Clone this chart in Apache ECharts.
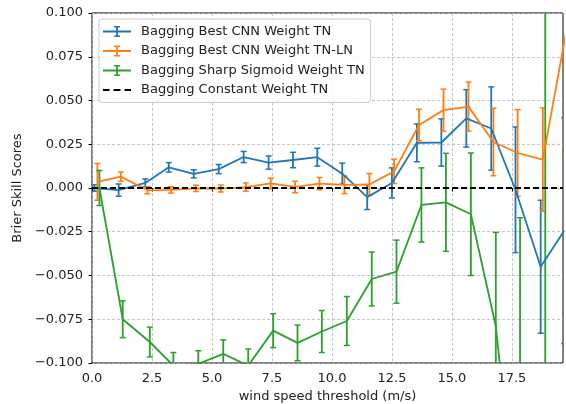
<!DOCTYPE html>
<html>
<head>
<meta charset="utf-8">
<script src="https://cdn.jsdelivr.net/npm/echarts@6/dist/echarts.min.js"></script>
<style>
html,body{margin:0;padding:0;background:#fff;}
#chart{width:566px;height:404px;}
</style>
</head>
<body>
<div id="chart"></div>
<script>
// ---- data ----
const xTickValues = [0, 2.5, 5, 7.5, 10, 12.5, 15, 17.5];

const thresholdsBlue = [0.10, 1.11, 2.22, 3.20, 4.24, 5.28, 6.32, 7.36, 8.375, 9.39, 10.43, 11.47, 12.50, 13.54, 14.56, 15.60, 16.64, 17.65, 18.70, 19.68];
const skillBlue = [0.0000, -0.0012, 0.0029, 0.0118, 0.0081, 0.0108, 0.0177, 0.0145, 0.0160, 0.0176, 0.0082, -0.0052, 0.0029, 0.0258, 0.0260, 0.0398, 0.0340, -0.0010, -0.0450, -0.0244];
const errBlue = [0.0018, 0.0035, 0.0023, 0.0027, 0.0023, 0.0026, 0.0032, 0.0038, 0.0044, 0.0051, 0.0060, 0.0071, 0.0086, 0.0108, 0.0135, 0.0164, 0.0238, 0.0359, 0.0380, 0.0645];

const thresholdsOrange = [0.225, 1.20, 2.31, 3.29, 4.33, 5.37, 6.41, 7.45, 8.465, 9.48, 10.52, 11.56, 12.59, 13.63, 14.65, 15.69, 16.73, 17.74, 18.79, 19.77];
const skillOrange = [0.0035, 0.0065, -0.0013, -0.0011, -0.0002, -0.0003, 0.0005, 0.0026, 0.0006, 0.0025, 0.0018, 0.0020, 0.0095, 0.0360, 0.0445, 0.0465, 0.0263, 0.0200, 0.0162, 0.0900];
const errOrange = [0.0105, 0.0027, 0.0020, 0.0018, 0.0018, 0.0020, 0.0024, 0.0030, 0.0033, 0.0035, 0.0050, 0.0063, 0.0070, 0.0090, 0.0120, 0.0140, 0.0193, 0.0248, 0.0296, 0.0300];

const thresholdsGreen = [0.31, 1.28, 2.41, 3.39, 4.43, 5.47, 6.51, 7.55, 8.565, 9.58, 10.62, 11.66, 12.69, 13.73, 14.75, 15.79, 16.83, 17.84, 18.89];
const skillGreen = [0.0000, -0.0750, -0.0880, -0.1015, -0.1005, -0.0948, -0.1015, -0.0815, -0.0885, -0.0820, -0.0760, -0.0520, -0.0478, -0.0097, -0.0082, -0.0150, -0.0790, -0.2100, -0.1500];
const errGreen = [0.0100, 0.0105, 0.0085, 0.0075, 0.0075, 0.0080, 0.0095, 0.0097, 0.0102, 0.0120, 0.0140, 0.0154, 0.0180, 0.0212, 0.0280, 0.0350, 0.0536, 0.1930, 0.3000];

const constantWeightTN = 0;

const names = ['Bagging Best CNN Weight TN', 'Bagging Best CNN Weight TN-LN', 'Bagging Sharp Sigmoid Weight TN', 'Bagging Constant Weight TN'];
const colors = ['#1f77b4', '#ff7f0e', '#2ca02c', '#000000'];

// ---- build ----
function rows(xs, ys, es) { return xs.map((x, i) => [x, ys[i], es[i]]); }

function errRender(color) {
  return function (params, api) {
    const cs = params.coordSys;
    const X0 = cs.x, X1 = cs.x + cs.width, Y0 = cs.y, Y1 = cs.y + cs.height;
    const x = api.value(0), v = api.value(1), e = api.value(2);
    const t = api.coord([x, v + e]);
    const b = api.coord([x, v - e]);
    const cw = 3;
    const children = [];
    const px = t[0];
    if (px >= X0 && px <= X1) {
      const ya = Math.max(Y0, Math.min(Y1, t[1]));
      const yb = Math.max(Y0, Math.min(Y1, b[1]));
      if (yb - ya > 0) {
        children.push({ type: 'line', shape: { x1: px, y1: ya, x2: px, y2: yb }, style: { stroke: color, lineWidth: 1.8 } });
      }
    }
    [t[1], b[1]].forEach(function (cy) {
      if (cy >= Y0 - 0.5 && cy <= Y1 + 0.5) {
        const xa = Math.max(X0, px - cw), xb = Math.min(X1, px + cw);
        if (xb > xa) {
          children.push({ type: 'line', shape: { x1: xa, y1: cy, x2: xb, y2: cy }, style: { stroke: color, lineWidth: 1.5 } });
        }
      }
    });
    return { type: 'group', children: children };
  };
}

function lineSeries(name, color, data) {
  return {
    name: name, type: 'line', color: color, data: data.map(r => [r[0], r[1]]),
    symbol: 'none', showSymbol: false, clip: true,
    lineStyle: { color: color, width: 1.8 }, silent: true, z: 2
  };
}
function errSeries(name, color, data) {
  return {
    name: name, type: 'custom', data: data, renderItem: errRender(color),
    encode: { x: 0, y: 1 }, clip: true, silent: true, z: 2
  };
}

const blueRows = rows(thresholdsBlue, skillBlue, errBlue);
const orangeRows = rows(thresholdsOrange, skillOrange, errOrange);
const greenRows = rows(thresholdsGreen, skillGreen, errGreen);

const errIcon = 'path://M0,4.6H28V6.4H0Z M13.1,0H14.9V11H13.1Z M11,0H17V1.4H11Z M11,9.6H17V11H11Z';
const dashIcon = 'path://M0,4.5H6.5V6.5H0Z M10.5,4.5H17.5V6.5H10.5Z M21.5,4.5H28V6.5H21.5Z M0,0 M28,11';

const font = 'DejaVu Sans';
const fs = 13;
const chart = echarts.init(document.getElementById('chart'), null, { renderer: 'canvas' });
chart.setOption({
  animation: false,
  backgroundColor: '#fff',
  grid: { left: 92, top: 13, width: 471, height: 350, outerBoundsMode: 'none', containLabel: false, show: true, borderColor: '#000', borderWidth: 1, backgroundColor: 'transparent' },
  legend: {
    orient: 'vertical', left: 99, top: 19,
    padding: [6, 6, 6, 4],
    itemWidth: 28, itemHeight: 11, itemGap: 6.5,
    backgroundColor: 'rgba(255,255,255,0.85)', borderColor: '#cccccc', borderWidth: 1, borderRadius: 3,
    textStyle: { fontFamily: font, fontSize: fs, color: '#222', lineHeight: 13, padding: [0, 0, 0, 5] },
    selectedMode: false,
    data: [
      { name: names[0], icon: errIcon },
      { name: names[1], icon: errIcon },
      { name: names[2], icon: errIcon },
      { name: names[3], icon: dashIcon }
    ]
  },
  xAxis: {
    type: 'value', min: 0, max: 19.63, interval: 2.5,
    name: 'wind speed threshold (m/s)', nameLocation: 'middle', nameGap: 26,
    nameTextStyle: { fontFamily: font, fontSize: fs, color: '#222' },
    axisLine: { show: false },
    axisTick: { show: true, length: 3.5, inside: false, customValues: xTickValues, lineStyle: { color: '#000', width: 1 } },
    axisLabel: { customValues: xTickValues, margin: 9, fontFamily: font, fontSize: fs, color: '#222', formatter: v => v.toFixed(1) },
    splitLine: { show: true, lineStyle: { color: '#b8b8b8', width: 0.8, type: [3, 2] } }
  },
  yAxis: {
    type: 'value', min: -0.1, max: 0.1, interval: 0.025,
    name: 'Brier Skill Scores', nameLocation: 'middle', nameGap: 64,
    nameTextStyle: { fontFamily: font, fontSize: fs, color: '#222' },
    axisLine: { show: false },
    axisTick: { show: true, length: 3.5, inside: false, lineStyle: { color: '#000', width: 1 } },
    axisLabel: { margin: 9, fontFamily: font, fontSize: fs, color: '#222', formatter: v => (v < 0 ? '\u2212' : '') + Math.abs(v).toFixed(3) },
    splitLine: { show: true, lineStyle: { color: '#b8b8b8', width: 0.8, type: [3, 2] } }
  },
  series: [
    lineSeries(names[0], colors[0], blueRows),
    errSeries('errBlue', colors[0], blueRows),
    lineSeries(names[1], colors[1], orangeRows),
    errSeries('errOrange', colors[1], orangeRows),
    lineSeries(names[2], colors[2], greenRows),
    errSeries('errGreen', colors[2], greenRows),
    {
      name: names[3], type: 'line', color: colors[3], data: [], symbol: 'none',
      lineStyle: { color: '#000', width: 2, type: [6, 3] }, silent: true, z: 3,
      markLine: {
        silent: true, symbol: ['none', 'none'], label: { show: false },
        lineStyle: { color: '#000', width: 2, type: [6, 3] },
        emphasis: { disabled: true },
        data: [{ yAxis: constantWeightTN }]
      }
    }
  ]
});
</script>
</body>
</html>
